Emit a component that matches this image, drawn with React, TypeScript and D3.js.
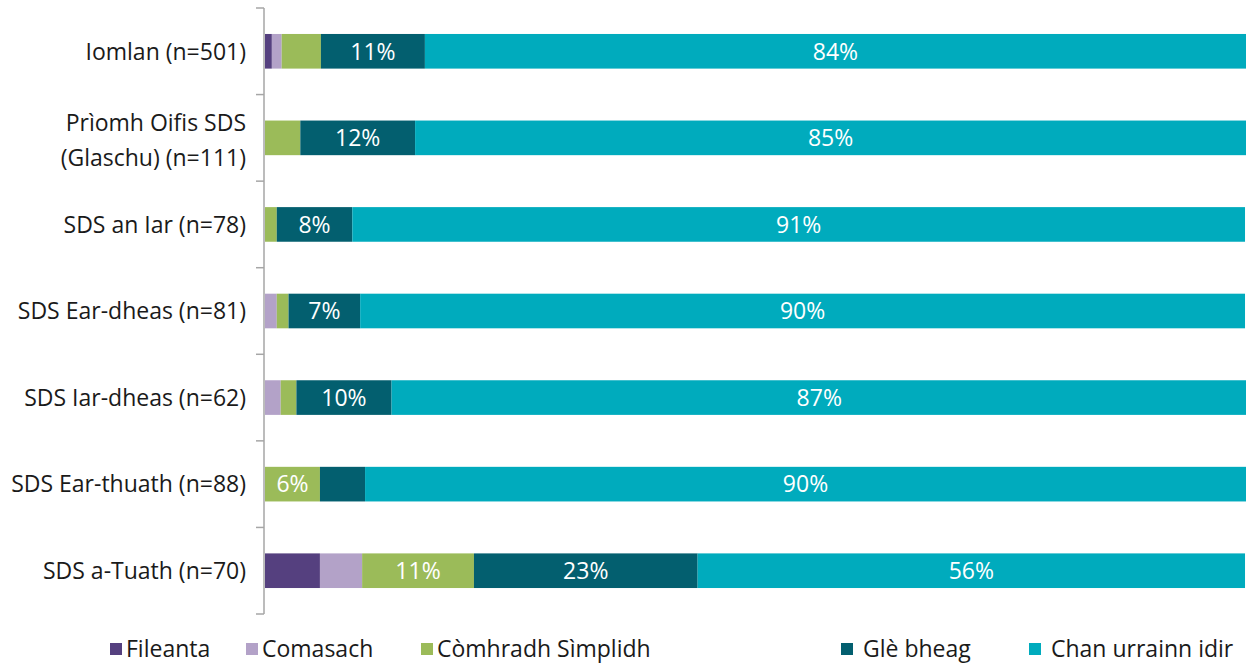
import React, { useEffect, useRef } from "react";
import * as d3 from "d3";

const categories = [
  "Iomlan (n=501)",
  "Prìomh Oifis SDS|(Glaschu) (n=111)",
  "SDS an Iar (n=78)",
  "SDS Ear-dheas (n=81)",
  "SDS Iar-dheas (n=62)",
  "SDS Ear-thuath (n=88)",
  "SDS a-Tuath (n=70)",
];

const seriesNames = ["Fileanta", "Comasach", "Còmhradh Sìmplidh", "Glè bheag", "Chan urrainn idir"];
const fileanta = [0.7, 0, 0, 0, 0, 0, 5.6];
const comasach = [1.0, 0, 0, 1.2, 1.6, 0, 4.3];
const comhradh = [4.0, 3.6, 1.2, 1.2, 1.6, 5.6, 11.4];
const gleBheag = [10.6, 11.7, 7.7, 7.3, 9.7, 4.6, 22.8];
const chan = [83.7, 84.7, 91.0, 90.2, 87.2, 89.8, 55.8];
const colors = ["#55407f", "#b3a2c8", "#9bbb59", "#035f6f", "#00abbd"];
// Excel had data labels only on these series
const labelled = [false, false, true, true, true];

const W = 1246;
const H = 663;

export default function App() {
  const ref = useRef<SVGSVGElement>(null);

  useEffect(() => {
    const svg = d3.select(ref.current);
    svg.selectAll("*").remove();

    const margin = { left: 265, right: 0, top: 8, bottom: 49 };
    const values = [fileanta, comasach, comhradh, gleBheag, chan];

    const x = d3.scaleLinear().domain([0, 100]).range([margin.left, W - margin.right]);
    const y = d3
      .scaleBand()
      .domain(categories)
      .range([margin.top, H - margin.bottom])
      .paddingInner(0.6)
      .paddingOuter(0.3);

    const font = "'Open Sans', Lato, sans-serif";
    const fs = 23;

    // bars
    categories.forEach((c, i) => {
      let acc = 0;
      values.forEach((s, k) => {
        const v = s[i];
        if (v <= 0) return;
        const x0 = x(acc);
        const x1 = x(acc + v);
        svg
          .append("rect")
          .attr("x", x0)
          .attr("y", y(c)!)
          .attr("width", x1 - x0)
          .attr("height", y.bandwidth())
          .attr("fill", colors[k]);
        if (labelled[k] && v >= 5) {
          svg
            .append("text")
            .attr("x", (x0 + x1) / 2)
            .attr("y", y(c)! + y.bandwidth() / 2)
            .attr("dy", "0.36em")
            .attr("text-anchor", "middle")
            .attr("fill", "#fff")
            .attr("font-family", font)
            .attr("font-size", fs)
            .text(`${Math.round(v)}%`);
        }
        acc += v;
      });
    });

    // axis
    const axis = svg.append("g").attr("stroke", "#a6a6a6").attr("stroke-width", 1.5);
    axis
      .append("line")
      .attr("x1", margin.left - 1)
      .attr("x2", margin.left - 1)
      .attr("y1", margin.top)
      .attr("y2", H - margin.bottom);
    d3.range(categories.length + 1).forEach((j) => {
      const yy = margin.top + j * ((H - margin.bottom - margin.top) / categories.length);
      axis
        .append("line")
        .attr("x1", margin.left - 9)
        .attr("x2", margin.left - 1)
        .attr("y1", yy)
        .attr("y2", yy);
    });

    // category labels
    categories.forEach((c) => {
      const lines = c.split("|");
      const cy = y(c)! + y.bandwidth() / 2 + (lines.length > 1 ? 2 : 0);
      const t = svg
        .append("text")
        .attr("text-anchor", "end")
        .attr("font-family", font)
        .attr("font-size", fs)
        .attr("fill", "#1a1a1a");
      lines.forEach((l, li) => {
        t.append("tspan")
          .attr("x", 246)
          .attr("y", cy + (li - (lines.length - 1) / 2) * 35)
          .attr("dy", "0.36em")
          .text(l);
      });
    });

    // legend
    const legendX = [110, 246, 421, 841, 1029];
    const lg = svg.append("g");
    seriesNames.forEach((n, k) => {
      lg.append("rect")
        .attr("x", legendX[k])
        .attr("y", 643)
        .attr("width", 12)
        .attr("height", 12)
        .attr("fill", colors[k]);
      lg.append("text")
        .attr("x", legendX[k] + (k >= 3 ? 22 : 16))
        .attr("y", 649)
        .attr("dy", "0.36em")
        .attr("font-family", font)
        .attr("font-size", fs)
        .attr("fill", "#1a1a1a")
        .text(n);
    });
  }, []);

  return (
    <div style={{ position: "fixed", left: 0, top: 0 }}>
      <svg ref={ref} width={W} height={H} style={{ display: "block", background: "#fff" }} />
    </div>
  );
}
